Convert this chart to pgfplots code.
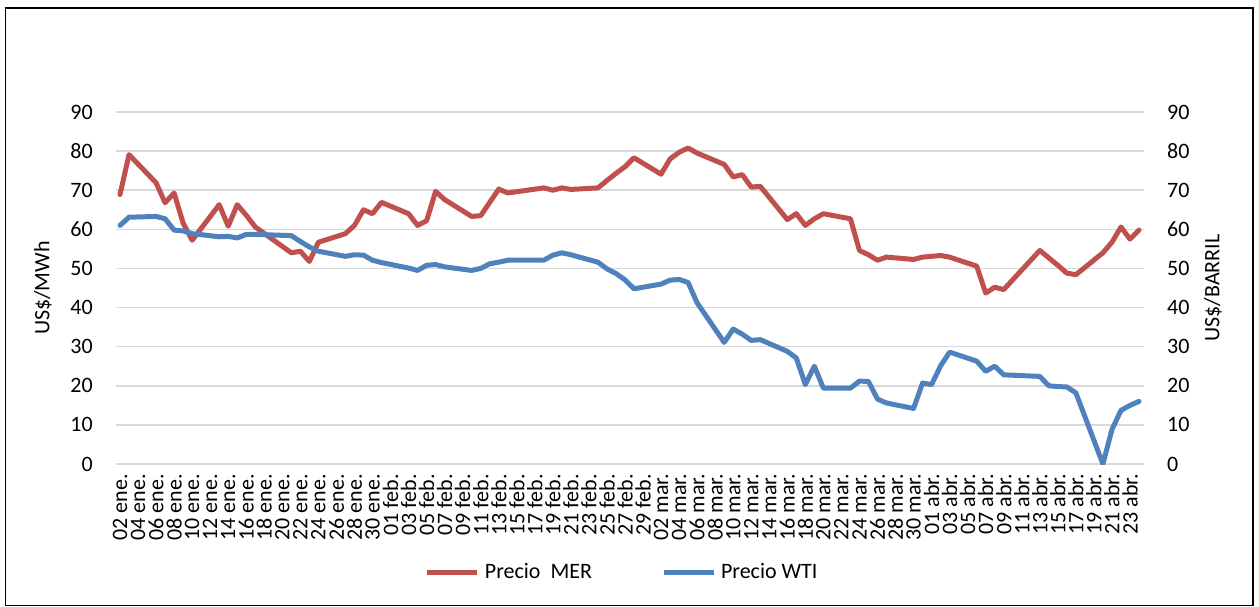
\documentclass[border=0pt]{standalone}
\usepackage{fontspec}
\setmainfont{Carlito}
\usepackage{pgfplots}
\usepackage{pgfplotstable}
\pgfplotsset{compat=1.18}

\definecolor{merred}{HTML}{C0504D}
\definecolor{wtiblue}{HTML}{4F81BD}
\definecolor{gridgray}{HTML}{D9D9D9}

% day 0 = 02 ene.
\pgfplotstableread{
day val
0 68.9
1 79.1
4 71.9
5 66.8
6 69.3
7 61.6
8 57.2
11 66.3
12 60.8
13 66.3
14 63.6
15 60.6
19 54.0
20 54.4
21 51.8
22 56.7
25 58.9
26 61.0
27 65.0
28 64.0
29 66.9
32 64.0
33 61.0
34 62.2
35 69.7
36 67.6
39 63.3
40 63.5
41 66.9
42 70.3
43 69.3
47 70.6
48 70.0
49 70.6
50 70.2
53 70.6
54 72.5
55 74.3
56 76.0
57 78.3
60 74.1
61 78.0
62 79.7
63 80.8
64 79.5
67 76.6
68 73.4
69 74.0
70 70.8
71 71.0
74 62.5
75 64.0
76 61.0
77 62.7
78 64.0
81 62.7
82 54.6
83 53.5
84 52.1
85 52.9
88 52.3
89 52.9
90 53.1
91 53.3
92 52.9
95 50.6
96 43.7
97 45.2
98 44.6
102 54.6
103 52.7
104 50.8
105 48.8
106 48.4
109 54.0
110 56.7
111 60.6
112 57.5
113 59.8
}\mer

\pgfplotstableread{
day val
0 61.0
1 63.1
4 63.3
5 62.7
6 59.8
7 59.6
8 58.9
11 58.1
12 58.2
13 57.8
14 58.7
15 58.7
19 58.4
20 56.9
21 55.5
22 54.4
25 53.1
26 53.5
27 53.4
28 52.1
29 51.5
32 50.1
33 49.5
34 50.8
35 51.0
36 50.4
39 49.5
40 50.0
41 51.2
42 51.6
43 52.1
47 52.1
48 53.4
49 54.0
50 53.5
53 51.6
54 49.9
55 48.7
56 47.1
57 44.8
60 46.0
61 47.0
62 47.2
63 46.4
64 41.2
67 31.1
68 34.5
69 33.2
70 31.6
71 31.8
74 28.8
75 27.1
76 20.3
77 25.0
78 19.4
81 19.4
82 21.2
83 21.1
84 16.6
85 15.6
88 14.2
89 20.7
90 20.3
91 25.1
92 28.6
95 26.3
96 23.7
97 25.0
98 22.8
102 22.4
103 20.0
104 19.8
105 19.7
106 18.2
109 0
110 8.8
111 13.7
112 15.0
113 16.0
}\wti

\pgfplotsset{
  base/.style={
    scale only axis, width=1028pt, height=352pt,
    at={(115.5pt,142pt)}, anchor=south west,
    xmin=-0.5, xmax=113.5, ymin=0, ymax=90,
    ytick={0,10,...,90},
    major tick length=0pt,
    axis line style={draw=none},
    tick label style={font=\fontsize{22}{26}\selectfont, inner sep=0pt},
    /pgf/number format/assume math mode=true,
  },
}

\begin{document}
\begin{tikzpicture}
\path[use as bounding box] (0pt,0pt) rectangle (1259pt,606pt);
\draw[line width=1.2pt] (5.5pt,0.6pt) rectangle (1253pt,598pt);

\begin{axis}[base,
  xtick={0,2,...,112},
  xticklabels={02 ene.,04 ene.,06 ene.,08 ene.,10 ene.,12 ene.,14 ene.,16 ene.,18 ene.,20 ene.,22 ene.,24 ene.,26 ene.,28 ene.,30 ene.,01 feb.,03 feb.,05 feb.,07 feb.,09 feb.,11 feb.,13 feb.,15 feb.,17 feb.,19 feb.,21 feb.,23 feb.,25 feb.,27 feb.,29 feb.,02 mar.,04 mar.,06 mar.,08 mar.,10 mar.,12 mar.,14 mar.,16 mar.,18 mar.,20 mar.,22 mar.,24 mar.,26 mar.,28 mar.,30 mar.,01 abr.,03 abr.,05 abr.,07 abr.,09 abr.,11 abr.,13 abr.,15 abr.,17 abr.,19 abr.,21 abr.,23 abr.},
  xticklabel style={rotate=90, anchor=east},
  xticklabel shift=10pt,
  yticklabel shift=22.5pt,
  ymajorgrids,
  grid style={gridgray, line width=1.5pt},
  ylabel={US\$/MWh},
  every axis y label/.style={at={(axis description cs:-0.0705,0.5)}, rotate=90, anchor=center, font=\fontsize{22}{26}\selectfont},
]
\addplot[merred, line width=5pt, line join=round, line cap=round] table[x=day, y=val] {\mer};
\end{axis}

\begin{axis}[base,
  axis y line*=right,
  xtick=\empty,
  yticklabel shift=23.5pt,
  ylabel={US\$/BARRIL},
  every axis y label/.style={at={(axis description cs:1.0676,0.5)}, rotate=90, anchor=center, font=\fontsize{22}{26}\selectfont},
  legend columns=2,
  legend style={draw=none, fill=none, inner sep=0pt, outer sep=0pt,
    at={(0.301,-0.307)}, anchor=west,
    font=\fontsize{22}{26}\selectfont,
    nodes={inner sep=0pt},
    /tikz/every odd column/.append style={column sep=5pt},
    /tikz/every even column/.append style={column sep=69pt}},
  legend image code/.code={\draw[#1, line cap=butt] (0pt,0pt) -- (50pt,0pt);},
]
\addlegendimage{merred, line width=5pt}
\addlegendentry{Precio\ \ MER}
\addplot[wtiblue, line width=5pt, line join=round, line cap=round] table[x=day, y=val] {\wti};
\addlegendentry{Precio WTI}
\end{axis}
\end{tikzpicture}
\end{document}
